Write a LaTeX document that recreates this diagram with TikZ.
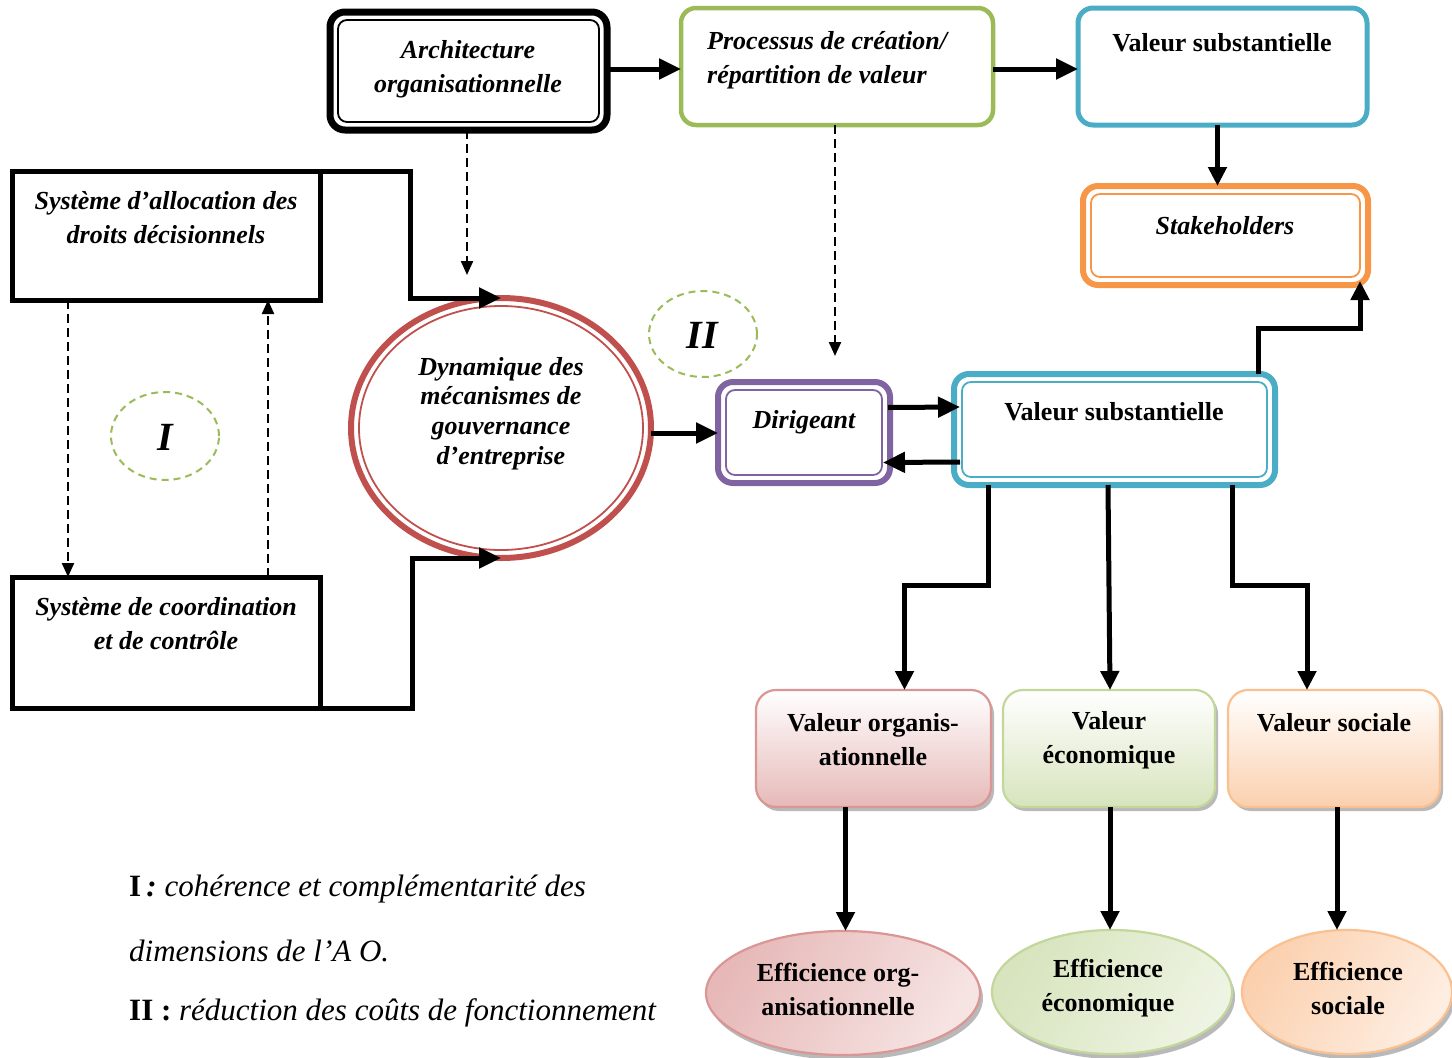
\documentclass[tikz,border=0pt]{standalone}
\usepackage{fontspec}
\setmainfont{Liberation Serif}
\usetikzlibrary{arrows.meta,shapes.geometric,calc,shadows}

\definecolor{cGreen}{HTML}{9BBB59}
\definecolor{cBlue}{HTML}{4BACC6}
\definecolor{cOrange}{HTML}{F79646}
\definecolor{cRed}{HTML}{C0504D}
\definecolor{cPurple}{HTML}{8064A2}
\definecolor{pinkLine}{HTML}{D99694}
\definecolor{pinkDark}{HTML}{E6B9B8}
\definecolor{pinkLight}{HTML}{F6E4E3}
\definecolor{greenLine}{HTML}{C3D69B}
\definecolor{greenDark}{HTML}{D7E4BD}
\definecolor{greenLight}{HTML}{EEF4E3}
\definecolor{orangeLine}{HTML}{FAC090}
\definecolor{orangeDark}{HTML}{FBD0AE}
\definecolor{orangeLight}{HTML}{FEEEE2}

\tikzset{
  bi/.style={font=\fontsize{26}{34}\selectfont\bfseries\itshape, align=center, inner sep=0pt},
  bu/.style={font=\fontsize{26}{34}\selectfont\bfseries, align=center, inner sep=0pt},
  shp/.style={inner sep=0pt, outer sep=0pt},
  rbox/.style={shp, rectangle, rounded corners=15pt},
  innerline/.style={line width=1.8pt, rounded corners=9pt},
  arr/.style={line width=5pt, -{Triangle[length=22pt,width=20pt]}},
  varr/.style={line width=5pt, -{Triangle[length=19pt,width=18pt]}},
  darr/.style={line width=2.2pt, dash pattern=on 9pt off 5pt, -{Triangle[length=14pt,width=12pt]}},
  ring/.style={shp, ellipse, draw=cGreen, line width=2pt, dash pattern=on 7pt off 5pt},
  softbox/.style={rbox, rounded corners=20pt, line width=2.2pt,
    drop shadow={shadow xshift=3pt, shadow yshift=-4pt, fill=gray!55, opacity=1}},
  softell/.style={shp, ellipse, line width=2.2pt,
    drop shadow={shadow xshift=3pt, shadow yshift=-5pt, fill=gray!55, opacity=1}},
}

\begin{document}
\begin{tikzpicture}[x=1pt,y=-1pt]
\useasboundingbox (0,0) rectangle (1452,1058);

% --- top row -------------------------------------------------------------
\node[rbox, draw=black, line width=7pt, minimum width=277pt, minimum height=118pt] (arch) at (468.5,71) {};
\draw[innerline] ($(arch.north west)+(8,8)$) rectangle ($(arch.south east)+(-8,-8)$);
\node[bi] (archT) at (468,69) {Architecture\\organisationnelle};

\node[rbox, draw=cGreen, line width=4.5pt, minimum width=312pt, minimum height=117pt] (proc) at (837,66.5) {};
\node[bi, align=left, anchor=west] (procT) at (707,60) {Processus de création/\\répartition de valeur};

\node[rbox, draw=cBlue, line width=5pt, minimum width=289pt, minimum height=117pt] (vtop) at (1222.5,66.5) {};
\node[bu] (vtopT) at (1222,43) {Valeur substantielle};

\node[rbox, draw=cOrange, line width=6pt, minimum width=285pt, minimum height=99pt] (stake) at (1225.5,235.5) {};
\draw[innerline, draw=cOrange] ($(stake.north west)+(8,8)$) rectangle ($(stake.south east)+(-8,-8)$);
\node[bi] (stakeT) at (1225,226) {Stakeholders};

% --- left column ---------------------------------------------------------
\node[shp, draw=black, line width=5pt, minimum width=308pt, minimum height=129pt] (alloc) at (166,235.5) {};
\node[bi] (allocT) at (166,218) {Système d’allocation des\\droits décisionnels};

\node[shp, draw=black, line width=5pt, minimum width=308pt, minimum height=131pt] (coord) at (166,642.5) {};
\node[bi] (coordT) at (166,624) {Système de coordination\\et de contrôle};

\node[ring, minimum width=108pt, minimum height=88pt] (ringI) at (165,436) {};
\node[font=\fontsize{40}{40}\selectfont\bfseries\itshape, inner sep=0pt] (ringIT) at (165,437) {I};

% --- governance ellipse --------------------------------------------------
\node[shp, ellipse, draw=cRed, line width=6pt, minimum width=300pt, minimum height=260pt] (gov) at (501,428) {};
\draw[cRed, line width=1.8pt] (gov.center) ellipse [x radius=142, y radius=122];
\node[bi, font=\fontsize{26}{29.7}\selectfont\bfseries\itshape] (govT) at (501,413.5)
  {Dynamique des\\mécanismes de\\gouvernance\\d’entreprise};

\node[ring, minimum width=108pt, minimum height=86pt] (ringII) at (703,334) {};
\node[font=\fontsize{40}{40}\selectfont\bfseries\itshape, inner sep=0pt] (ringIIT) at (702,335) {II};

% --- dirigeant and central value ----------------------------------------
\node[rbox, draw=cPurple, line width=6pt, minimum width=172pt, minimum height=101pt] (dir) at (804,432.5) {};
\draw[innerline, draw=cPurple] ($(dir.north west)+(8,8)$) rectangle ($(dir.south east)+(-8,-8)$);
\node[bi] (dirT) at (804,422) {Dirigeant};

\node[rbox, draw=cBlue, line width=6pt, minimum width=321pt, minimum height=111pt] (vmid) at (1114.5,429.5) {};
\draw[innerline, draw=cBlue] ($(vmid.north west)+(8,8)$) rectangle ($(vmid.south east)+(-8,-8)$);
\node[bu] (vmidT) at (1114,412) {Valeur substantielle};

% --- value boxes ---------------------------------------------------------
\node[softbox, draw=pinkLine, top color=white, bottom color=pinkDark, minimum width=235pt, minimum height=117pt] (vorg) at (873.5,748.5) {};
\node[bu] (vorgT) at (873,740) {Valeur organis-\\ationnelle};

\node[softbox, draw=greenLine, top color=white, bottom color=greenDark, minimum width=212pt, minimum height=117pt] (veco) at (1109,748.5) {};
\node[bu] (vecoT) at (1109,740) {Valeur\\économique};

\node[softbox, draw=orangeLine, top color=white, bottom color=orangeDark, minimum width=212pt, minimum height=117pt] (vsoc) at (1334,748.5) {};
\node[bu] (vsocT) at (1334,723) {Valeur sociale};

% --- efficiency ellipses -------------------------------------------------
\node[softell, draw=pinkLine, left color=pinkDark, right color=pinkLight, shading angle=60, minimum width=274pt, minimum height=124pt] (eorg) at (843,993) {};
\node[bu] (eorgT) at (838,989) {Efficience org-\\anisationnelle};

\node[softell, draw=greenLine, left color=greenDark, right color=greenLight, shading angle=60, minimum width=240pt, minimum height=124pt] (eeco) at (1112,992) {};
\node[bu] (eecoT) at (1108,988) {Efficience\\économique};

\node[softell, draw=orangeLine, left color=orangeDark, right color=orangeLight, shading angle=60, minimum width=210pt, minimum height=124pt] (esoc) at (1347,992) {};
\node[bu] (esocT) at (1348,988) {Efficience\\sociale};

% --- legend --------------------------------------------------------------
\begin{scope}[every node/.style={anchor=west, inner sep=0pt, font=\fontsize{31}{31}\selectfont}]
\node (leg1) at (129,889) {\textbf{I}\,\textbf{\textit{:}} \textit{cohérence et complémentarité des}};
\node (leg2) at (129,951) {\textit{dimensions de l’A O.}};
\node (leg3) at (129,1013) {\textbf{II :} \textit{réduction des coûts de fonctionnement}};
\end{scope}

% --- connectors ----------------------------------------------------------
\draw[arr] ($(arch.east)+(0,-2)$) -- ($(arch.east -| proc.west)+(0,-2)$);
\draw[arr] ($(proc.east)+(0,2.5)$) -- ($(proc.east -| vtop.west)+(0,2.5)$);
\draw[varr] ($(vtop.south)+(-5,0)$) -- ($(vtop.south |- stake.north)+(-5,0)$);

\draw[arr] (alloc.north east) -- ++(90,0) |- (gov.north);
\draw[arr] (coord.south east) -- ++(92,0) |- (gov.south);

\draw[darr] ($(alloc.south west)+(56,0)$) -- ($(coord.north west)+(56,0)$);
\draw[darr] ($(coord.north west)+(256,0)$) -- ($(alloc.south west)+(256,0)$);

\coordinate (archEnd) at (467,275);
\coordinate (procEnd) at (835,356);
\draw[darr] (arch.south -| archEnd) -- (archEnd);
\draw[darr] (proc.south -| procEnd) -- (procEnd);

\draw[arr] (gov.east) ++(0,5) -- ($(dir.west)+(0,0.5)$);
\draw[arr] ($(dir.east)+(-2,-25)$) -- ($(vmid.west)+(6,-22.5)$);
\draw[arr] ($(vmid.west)+(6,32.5)$) -- ($(dir.east)+(-7,30)$);

\draw[varr] ($(vmid.north east)+(-17,0)$) -- ++(0,-46) -| ($(stake.south east)+(-8,-4)$);

\draw[varr] ($(vmid.south west)+(34,0)$) -- ++(0,100) -| ($(vorg.north)+(31,0)$);
\draw[varr] ($(vmid.south west)+(154,0)$) -- ($(veco.north)+(1,0)$);
\draw[varr] ($(vmid.south west)+(278,0)$) -- ++(0,100) -| ($(vsoc.north)+(-27,0)$);

\draw[varr] ($(vorg.south)+(-28,0)$) -- ($(vorg.south |- eorg.north)+(-28,0)$);
\draw[varr] ($(veco.south)+(1,0)$) -- ($(veco.south |- eeco.north)+(1,0)$);
\draw[varr] ($(vsoc.south)+(3,0)$) -- ($(vsoc.south |- esoc.north)+(3,0)$);
\end{tikzpicture}
\end{document}
